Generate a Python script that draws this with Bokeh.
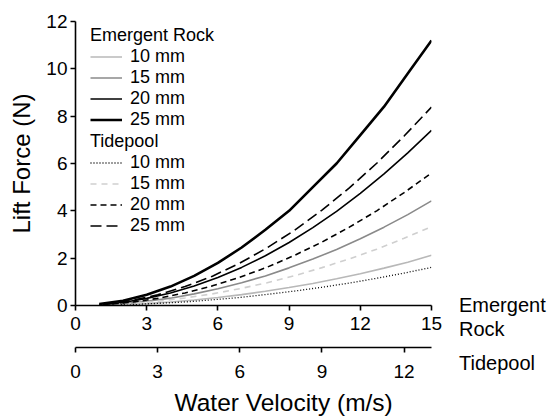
from bokeh.plotting import figure
from bokeh.layouts import row
from bokeh.models import (Range1d, LinearAxis, FixedTicker, Legend, LegendItem, Div, Title)
from bokeh.embed import file_html
from bokeh.resources import INLINE

# Emergent Rock series (velocity on the Emergent Rock scale, 1..15 m/s)
er_velocity = [1, 2, 3, 4, 5, 6, 7, 8, 9, 10, 11, 12, 13, 14, 15]
er_10mm = [0.01, 0.04, 0.08, 0.15, 0.23, 0.34, 0.46, 0.60, 0.76, 0.93, 1.13, 1.34, 1.58, 1.83, 2.12]
er_15mm = [0.02, 0.08, 0.18, 0.31, 0.49, 0.71, 0.96, 1.25, 1.59, 1.96, 2.37, 2.82, 3.31, 3.84, 4.42]
er_20mm = [0.03, 0.13, 0.30, 0.53, 0.82, 1.18, 1.61, 2.10, 2.66, 3.29, 3.98, 4.74, 5.56, 6.45, 7.40]
er_25mm = [0.06, 0.20, 0.45, 0.80, 1.25, 1.80, 2.45, 3.20, 4.00, 5.00, 6.00, 7.20, 8.40, 9.80, 11.20]

# Tidepool series (velocity on the Tidepool scale, 1..13 m/s)
tp_velocity = [1, 2, 3, 4, 5, 6, 7, 8, 9, 10, 11, 12, 13]
tp_10mm = [0.01, 0.04, 0.09, 0.15, 0.24, 0.34, 0.47, 0.61, 0.77, 0.95, 1.15, 1.37, 1.61]
tp_15mm = [0.02, 0.08, 0.18, 0.32, 0.49, 0.71, 0.96, 1.26, 1.60, 1.97, 2.38, 2.84, 3.33]
tp_20mm = [0.03, 0.13, 0.30, 0.53, 0.83, 1.19, 1.62, 2.12, 2.68, 3.31, 4.00, 4.77, 5.60]
tp_25mm = [0.05, 0.20, 0.45, 0.80, 1.24, 1.79, 2.44, 3.18, 4.03, 4.97, 6.01, 7.16, 8.38]

size_labels = ["10 mm", "15 mm", "20 mm", "25 mm"]
er_ticks = [0, 3, 6, 9, 12, 15]
tp_ticks = [0, 3, 6, 9, 12]
y_ticks = [0, 2, 4, 6, 8, 10, 12]
scale_names = ["Emergent", "Rock", "Tidepool"]
x_title = "Water Velocity (m/s)"

FONT = "Liberation Sans"
H = 419

p = figure(frame_width=356, frame_height=284,
           min_border_left=75, min_border_right=14, min_border_top=21, min_border_bottom=H - 21 - 284,
           x_range=Range1d(0, 15), y_range=Range1d(0, 12),
           x_axis_type=None, y_axis_type=None,
           output_backend="svg", toolbar_location=None)
p.outline_line_color = None
p.xgrid.visible = False
p.ygrid.visible = False
p.extra_x_ranges = {"tide": Range1d(0, 13)}

def style_axis(ax):
    ax.axis_line_color = "black"
    ax.axis_line_width = 1.6
    ax.major_tick_line_color = "black"
    ax.major_tick_line_width = 1.6
    ax.major_tick_in = 0
    ax.major_tick_out = 5
    ax.minor_tick_line_color = None
    ax.major_label_text_font = FONT
    ax.major_label_text_font_size = "19px"
    ax.major_label_text_color = "black"
    ax.axis_label_text_font = FONT
    ax.axis_label_text_font_style = "normal"
    ax.axis_label_text_color = "black"

yax = LinearAxis(ticker=FixedTicker(ticks=y_ticks), axis_label="Lift Force (N)")
style_axis(yax)
yax.major_label_standoff = 3
yax.axis_label_text_font_size = "24px"
yax.axis_label_standoff = 8
p.add_layout(yax, "left")

xax1 = LinearAxis(ticker=FixedTicker(ticks=er_ticks), axis_label="x")
style_axis(xax1)
xax1.major_label_standoff = 6
xax1.axis_label_text_font_size = "8px"
xax1.axis_label_text_alpha = 0
xax1.axis_label_standoff = 3
p.add_layout(xax1, "below")

xax2 = LinearAxis(x_range_name="tide", ticker=FixedTicker(ticks=tp_ticks))
style_axis(xax2)
xax2.major_label_standoff = 12
p.add_layout(xax2, "below")

# shared x-axis title, placed a little right of the frame centre as in the original
p.add_layout(Title(text=x_title, align="left", offset=99, standoff=13,
                   text_font=FONT, text_font_size="24.5px", text_font_style="normal",
                   text_color="black"), "below")

er_series = [er_10mm, er_15mm, er_20mm, er_25mm]
er_colors = ["#b8b8b8", "#8a8a8a", "black", "black"]
er_widths = [1.6, 1.6, 1.6, 2.6]
er_items = []
for lab, ys, c, w in zip(size_labels, er_series, er_colors, er_widths):
    r = p.line(er_velocity, ys, line_color=c, line_width=w)
    er_items.append(LegendItem(label=lab, renderers=[r]))

tp_series = [tp_10mm, tp_15mm, tp_20mm, tp_25mm]
tp_colors = ["black", "#cfcfcf", "black", "black"]
tp_widths = [1.3, 1.6, 1.6, 1.6]
tp_dashes = ["1 2", "6 5", "6 4", "11 5"]
tp_items = []
for lab, ys, c, w, d in zip(size_labels, tp_series, tp_colors, tp_widths, tp_dashes):
    r = p.line(tp_velocity, ys, line_color=c, line_width=w, line_dash=d, x_range_name="tide")
    tp_items.append(LegendItem(label=lab, renderers=[r]))

def make_legend(title, items, loc):
    lg = Legend(items=items, title=title, location=loc)
    lg.title_text_font = FONT
    lg.title_text_font_size = "18px"
    lg.title_text_font_style = "normal"
    lg.title_text_color = "black"
    lg.title_standoff = 0
    lg.label_text_font = FONT
    lg.label_text_font_size = "18px"
    lg.label_text_color = "black"
    lg.label_height = 21
    lg.glyph_height = 21
    lg.glyph_width = 32
    lg.label_standoff = 8
    lg.spacing = 0
    lg.padding = 0
    lg.margin = 0
    lg.border_line_color = None
    lg.background_fill_alpha = 0
    return lg

p.add_layout(make_legend("Emergent Rock", er_items, (15, 175)))
p.add_layout(make_legend("Tidepool", tp_items, (15, 69)))

# side panel with the names of the two velocity scales, beside their axes
SW = 104
tops = [294, 317.5, 351.5]
spans = "".join(
    f'<span style="position:absolute;left:14px;top:{t}px;line-height:23px;white-space:nowrap">{n}</span>'
    for n, t in zip(scale_names, tops))
side = Div(text=f'<div style="position:relative;width:{SW}px;height:{H}px;'
                f'font-family:\'{FONT}\';font-size:20px;color:black">{spans}</div>',
           width=SW, height=H, margin=0)

layout = row(p, side)
open("out.html", "w").write(file_html(layout, INLINE))
